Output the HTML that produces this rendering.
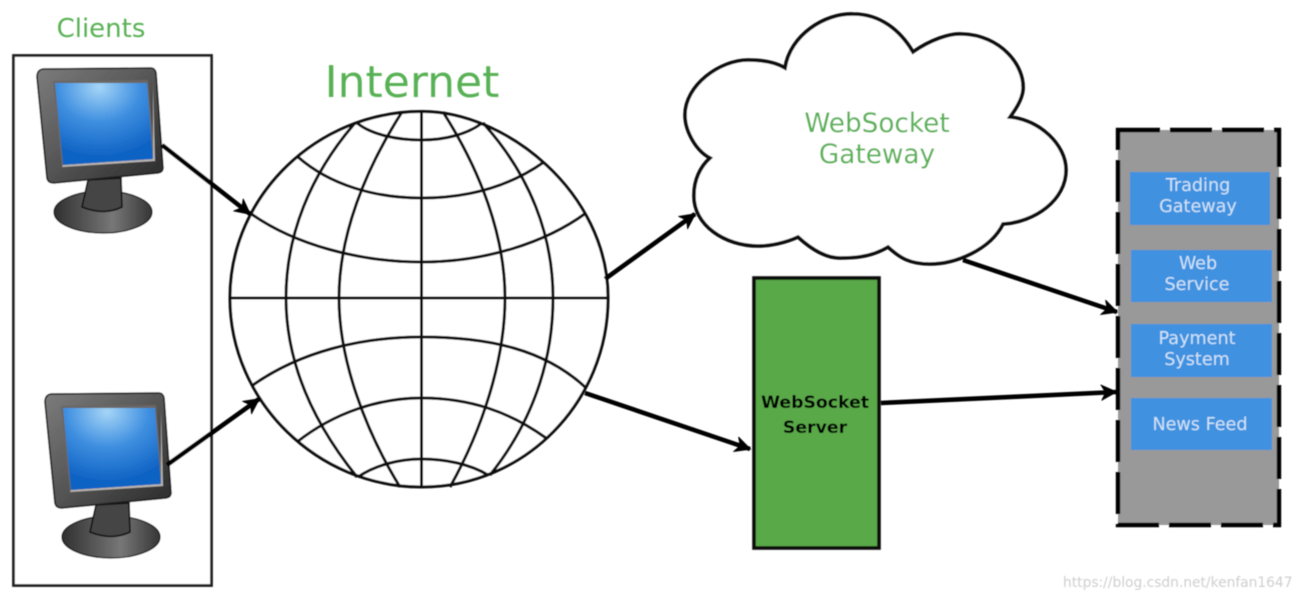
<!DOCTYPE html>
<html><head><meta charset="utf-8"><title>WebSocket diagram</title>
<style>html,body{margin:0;padding:0;background:#fff}svg{display:block}text{font-family:"DejaVu Sans","Liberation Sans",sans-serif}</style></head>
<body>
<svg width="1300" height="599" viewBox="0 0 1300 599" xmlns="http://www.w3.org/2000/svg">
<defs>
<filter id="b" x="-5%" y="-5%" width="110%" height="110%"><feGaussianBlur stdDeviation="0.55"/></filter>
<radialGradient id="scr" cx="45%" cy="5%" r="85%"><stop offset="0" stop-color="#a5d5f7"/><stop offset=".5" stop-color="#3f8fe0"/><stop offset="1" stop-color="#0f63c4"/></radialGradient>
<linearGradient id="bez" x1="0" y1="0" x2="1" y2="1"><stop offset="0" stop-color="#7c7c7c"/><stop offset=".5" stop-color="#555"/><stop offset="1" stop-color="#2a2a2a"/></linearGradient>
<linearGradient id="bs" x1="0" y1="0" x2="1" y2="0"><stop offset="0" stop-color="#303030"/><stop offset=".6" stop-color="#777"/><stop offset="1" stop-color="#363636"/></linearGradient>
<marker id="a" markerUnits="userSpaceOnUse" markerWidth="20" markerHeight="20" refX="15" refY="8" orient="auto"><path d="M1,1 L15,8 L1,15 L5,8 Z" fill="#000" stroke="#000" stroke-width="1.4"/></marker>
<g id="mon">
<ellipse cx="103" cy="212" rx="49" ry="21" fill="url(#bs)" stroke="#111" stroke-width="1.2"/>
<path d="M88,180 L121,178 L122,207 Q104,216 82,207 Z" fill="#444" stroke="#111" stroke-width="1.6"/>
<path d="M43,69 L151,68 Q155,68 156,73 L163,168 Q163,172 158,173 L54,183 Q48,183 47,178 L37,77 Q37,70 43,69 Z" fill="url(#bez)" stroke="#1a1a1a" stroke-width="1.6"/>
<path d="M53,81 L148,80 L155,161 L62,167 Z" fill="#6a6664"/>
<path d="M153,84 L155,161 L62,167 L63,165 L153,159 Z" fill="#b8b4b0"/>
<path d="M55,83 L147,83 L153,159 L63,165 Z" fill="url(#scr)"/>
</g>
</defs>
<rect width="1300" height="599" fill="#fff"/>
<g filter="url(#b)">
<rect x="13.5" y="55.5" width="198" height="530" fill="#fff" stroke="#222" stroke-width="2.8"/>
<use href="#mon"/>
<use href="#mon" transform="translate(8,325)"/>

<g fill="none" stroke="#0c0c0c" stroke-width="3">
<path d="M421.5,111.5 C505,111 608,192 608,298 C608,402 525,487 421.5,487 C318,487 230,402 230,298 C230,195 318,111.5 421.5,111.5 Z" fill="#fff"/>
<path d="M230,298 H608 M421.5,112 V487"/>
<path d="M402,112 C365,170 339,235 339,298 C339,360 365,430 400,487"/>
<path d="M443,112 C480,170 505,235 505,298 C505,360 482,430 450,487"/>
<path d="M355,123 C310,175 286,235 286,298 C286,365 315,425 357,477"/>
<path d="M483,123 C530,175 553,235 553,298 C553,365 530,425 490,475"/>
<path d="M357,123 C372,135 398,140 421.5,140 C445,140 468,134 482,123"/>
<path d="M298,157 C330,185 375,198 421.5,198 C470,198 510,186 544,162"/>
<path d="M250,213 C295,245 360,262 421.5,262 C485,262 545,243 586,213"/>
<path d="M253,385 C300,352 360,337 421.5,337 C490,337 545,350 585,387"/>
<path d="M297,442 C335,412 380,398 421.5,398 C470,398 510,412 546,438"/>
<path d="M358,477 C375,465 400,459 421.5,459 C445,459 470,464 488,475"/>
</g>

<path d="M785,68 C790,35 825,13 853,14 C880,14 900,30 913,52 C930,40 950,33 962,34 C1000,35 1025,65 1023,90 C1022,100 1015,110 1010,117 C1040,120 1066,145 1066,170 C1066,200 1035,222 1003,224 C990,250 955,264 930,264 C910,264 900,258 888,247 C870,258 850,258 840,258 C825,258 810,248 798,237 C785,243 770,246 758,246 C725,246 693,225 694,195 C694,180 700,167 710,158 C695,150 685,130 685,115 C685,85 720,60 748,60 C762,60 775,62 785,68 Z" fill="#fff" stroke="#0c0c0c" stroke-width="3.6"/>

<rect x="754" y="278" width="125" height="270" fill="#5aa94a" stroke="#0c0c0c" stroke-width="3.6"/>

<rect x="1118" y="130" width="161" height="395" fill="#999"/>
<rect x="1118" y="130" width="161" height="395" fill="none" stroke="#000" stroke-width="4.4" stroke-dasharray="42 10"/>
<rect x="1130" y="172" width="140" height="53" fill="#4191e0"/>
<rect x="1131" y="250" width="141" height="52" fill="#4191e0"/>
<rect x="1131" y="324" width="141" height="53" fill="#4191e0"/>
<rect x="1131" y="398" width="141" height="52" fill="#4191e0"/>

<g stroke="#000" stroke-width="4.6" fill="none">
<line x1="162" y1="145" x2="250" y2="214" marker-end="url(#a)"/>
<line x1="167" y1="465" x2="259" y2="399" marker-end="url(#a)"/>
<line x1="605" y1="279" x2="695" y2="214" marker-end="url(#a)"/>
<line x1="585" y1="393" x2="750" y2="449" marker-end="url(#a)"/>
<line x1="963" y1="260" x2="1117" y2="312" marker-end="url(#a)"/>
<line x1="881" y1="403" x2="1116" y2="392" marker-end="url(#a)"/>
</g>

<g fill="#58b154" text-anchor="middle">
<text x="101" y="37" font-size="26">Clients</text>
<text x="412" y="97" font-size="44">Internet</text>
<text x="877" y="132" font-size="26.3">WebSocket</text>
<text x="877" y="163" font-size="26.3">Gateway</text>
</g>
<g fill="#000" font-weight="bold" font-size="17.3" text-anchor="middle">
<text x="815" y="408">WebSocket</text>
<text x="815" y="433">Server</text>
</g>
<g fill="#cfe3f7" font-size="17.6" text-anchor="middle">
<text x="1198" y="191">Trading</text>
<text x="1198" y="212">Gateway</text>
<text x="1198" y="269">Web</text>
<text x="1197" y="290">Service</text>
<text x="1197" y="344">Payment</text>
<text x="1197" y="365">System</text>
<text x="1200" y="430">News Feed</text>
</g>
<text x="1063" y="587" font-size="13.8" fill="#cfcfcf">https://blog.csdn.net/kenfan1647</text>
</g>
</svg>
</body></html>
